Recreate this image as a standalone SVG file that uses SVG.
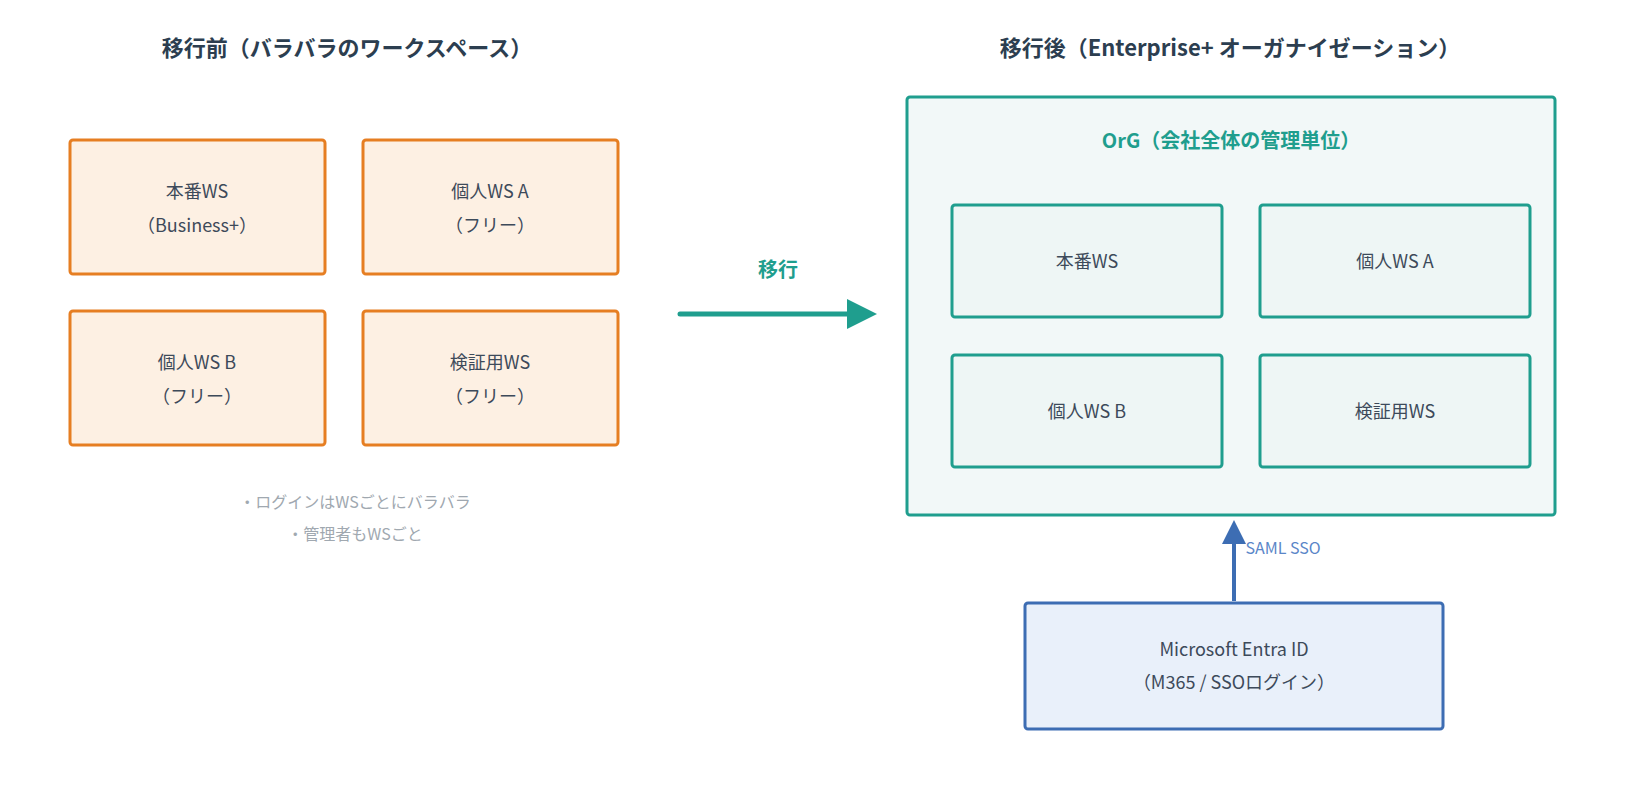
<svg xmlns="http://www.w3.org/2000/svg" width="1635" height="795" viewBox="0 0 1635 795">
<style>
text{font-family:"Noto Sans CJK JP","Noto Sans",sans-serif;text-anchor:middle}
.t{font-size:22px;font-weight:bold;fill:#2c3e50}
.n{font-size:18px;fill:#3d4a5a}
.o{fill:#fdf0e3;stroke:#e67e22;stroke-width:3}
.g{fill:#eef6f5;stroke:#1f9e8e;stroke-width:3}
.note{font-size:16px;fill:#a0a8b0}
</style>
<defs>
<marker id="ag" markerWidth="6" markerHeight="6" refX="3" refY="3" orient="auto" markerUnits="strokeWidth"><path d="M0,0L6,3L0,6Z" fill="#1f9e8e"/></marker>
<marker id="ab" markerWidth="6" markerHeight="6" refX="3" refY="3" orient="auto" markerUnits="strokeWidth"><path d="M0,0L6,3L0,6Z" fill="#3d6db3"/></marker>
</defs>
<rect width="1635" height="795" fill="#fff"/>
<text class="t" x="347" y="56">移行前（バラバラのワークスペース）</text>
<text class="t" x="1230" y="56">移行後（Enterprise+ オーガナイゼーション）</text>
<g id="b1"><rect class="o" x="70" y="140" width="255" height="134" rx="3"/><text class="n" x="197" y="198">本番WS</text><text class="n" x="197" y="232">（Business+）</text></g>
<g id="b2"><rect class="o" x="363" y="140" width="255" height="134" rx="3"/><text class="n" x="490" y="198">個人WS A</text><text class="n" x="490" y="232">（フリー）</text></g>
<g id="b3"><rect class="o" x="70" y="311" width="255" height="134" rx="3"/><text class="n" x="197" y="369">個人WS B</text><text class="n" x="197" y="403">（フリー）</text></g>
<g id="b4"><rect class="o" x="363" y="311" width="255" height="134" rx="3"/><text class="n" x="490" y="369">検証用WS</text><text class="n" x="490" y="403">（フリー）</text></g>
<text class="note" x="355" y="508">・ログインはWSごとにバラバラ</text>
<text class="note" x="355" y="540">・管理者もWSごと</text>
<g id="org"><rect x="907" y="97" width="648" height="418" rx="3" fill="#f2f8f8" stroke="#1f9e8e" stroke-width="3"/><text x="1231" y="148" style="font-size:20px;font-weight:bold;fill:#1f9e8e">OrG（会社全体の管理単位）</text></g>
<g id="w1"><rect class="g" x="952" y="205" width="270" height="112" rx="3"/><text class="n" x="1087" y="268">本番WS</text></g>
<g id="w2"><rect class="g" x="1260" y="205" width="270" height="112" rx="3"/><text class="n" x="1395" y="268">個人WS A</text></g>
<g id="w3"><rect class="g" x="952" y="355" width="270" height="112" rx="3"/><text class="n" x="1087" y="418">個人WS B</text></g>
<g id="w4"><rect class="g" x="1260" y="355" width="270" height="112" rx="3"/><text class="n" x="1395" y="418">検証用WS</text></g>
<g id="entra"><rect x="1025" y="603" width="418" height="126" rx="3" fill="#e9f0fa" stroke="#3d6db3" stroke-width="3"/><text class="n" x="1234" y="656">Microsoft Entra ID</text><text class="n" x="1234" y="689">（M365 / SSOログイン）</text></g>
<g id="connectors">
<line x1="680" y1="314" x2="862" y2="314" stroke="#1f9e8e" stroke-width="5" stroke-linecap="round" marker-end="url(#ag)"/>
<text x="778" y="277" style="font-size:20px;font-weight:bold;fill:#1f9e8e">移行</text>
<line x1="1234" y1="601" x2="1234" y2="532" stroke="#3d6db3" stroke-width="4" marker-end="url(#ab)"/>
<text x="1283" y="554" style="font-size:16px;fill:#5a86c8">SAML SSO</text>
</g>
</svg>
